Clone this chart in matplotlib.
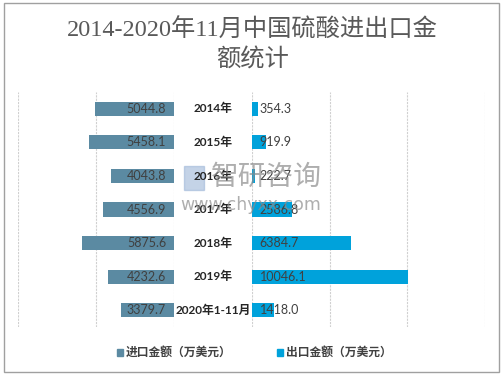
import matplotlib.pyplot as plt
import matplotlib.transforms as mtransforms
from matplotlib.patches import Rectangle
import numpy as np

plt.rcParams['font.family'] = ['Noto Sans CJK SC', 'DejaVu Sans']

# data
years = ['2014年', '2015年', '2016年', '2017年', '2018年', '2019年', '2020年1-11月']
imports = [5044.8, 5458.1, 4043.8, 4556.9, 5875.6, 4232.6, 3379.7]
exports = [354.3, 919.9, 222.7, 2586.8, 6384.7, 10046.1, 1418.0]

c_imp = '#5B8AA2'
c_exp = '#00A2DB'
grid_c = '#D0D0D0'

fig = plt.figure(figsize=(5.04, 3.75), dpi=100)

bottom = 1 - 327 / 375
height = (327 - 92) / 375
ax_l = fig.add_axes([18 / 504, bottom, 156 / 504, height])
ax_r = fig.add_axes([252 / 504, bottom, 233 / 504, height])

y = np.arange(len(years))

ax_l.barh(y, imports, height=0.42, color=c_imp, zorder=2)
ax_r.barh(y, exports, height=0.42, color=c_exp, zorder=2)

ax_l.set_xlim(10000, 0)
ax_r.set_xlim(0, 15000)
for ax, ticks in ((ax_l, [0, 5000, 10000]), (ax_r, [0, 5000, 10000, 15000])):
    ax.set_ylim(6.5, -0.5)
    for t in ticks:
        ax.axvline(t, color=grid_c, lw=0.8, ls=(0, (2, 1)), zorder=1)
    for s in ax.spines.values():
        s.set_visible(False)
    ax.set_xticks([])
    ax.set_yticks([])
    ax.patch.set_alpha(0)

# value labels
for i, v in enumerate(imports):
    ax_l.text(500, i, f'{v:.1f}', ha='right', va='center', fontsize=9,
              color='#404040', family=['Lato'], zorder=3)
for i, v in enumerate(exports):
    ax_r.text(500, i, f'{v:.1f}', ha='left', va='center', fontsize=9,
              color='#404040', family=['Lato'], zorder=3)

# category labels in the middle
tr = mtransforms.blended_transform_factory(fig.transFigure, ax_r.transData)
for i, lab in enumerate(years):
    fig.text(213 / 504, i, lab, transform=tr, ha='center', va='center',
             fontsize=8.5, color='#262626', fontweight='bold',
             family=['Lato', 'Noto Sans CJK SC'])

# watermark
fig.text(266 / 504, 1 - 177 / 375, '智研咨询', ha='center', va='center',
         fontsize=20, color='#8C8C8C', alpha=0.7)
fig.add_artist(Rectangle((184 / 504, 1 - 190 / 375), 20 / 504, 24 / 375,
                         transform=fig.transFigure, color='#9DB6D8', alpha=0.6))
fig.text(251 / 504, 1 - 205 / 375, 'www.chyxx.com', ha='center', va='center',
         fontsize=12.5, color='#8C8C8C', alpha=0.7, family=['DejaVu Sans'])

# title
fig.text(0.5, 1 - 30 / 375, '2014-2020年11月中国硫酸进出口金', ha='center', va='center',
         fontsize=17.5, color='#595959', family=['Liberation Serif', 'Noto Sans CJK SC'])
fig.text(0.5, 1 - 60 / 375, '额统计', ha='center', va='center',
         fontsize=17.5, color='#595959', family=['Liberation Serif', 'Noto Sans CJK SC'])

# legend
ly = 1 - 352 / 375
fig.add_artist(Rectangle((117 / 504, ly - 3.5 / 375), 6 / 504, 7 / 375,
                         transform=fig.transFigure, color=c_imp))
fig.text(126 / 504, ly, '进口金额（万美元）', ha='left', va='center',
         fontsize=8.5, color='#404040', fontweight='bold')
fig.add_artist(Rectangle((277 / 504, ly - 3.5 / 375), 6 / 504, 7 / 375,
                         transform=fig.transFigure, color=c_exp))
fig.text(286 / 504, ly, '出口金额（万美元）', ha='left', va='center',
         fontsize=8.5, color='#404040', fontweight='bold')

# outer border
fig.add_artist(Rectangle((4 / 504, 3 / 375), 495 / 504, 369 / 375,
                         transform=fig.transFigure, fill=False,
                         edgecolor='#A0A0A0', lw=1))

fig.savefig('out.png', dpi=100)
